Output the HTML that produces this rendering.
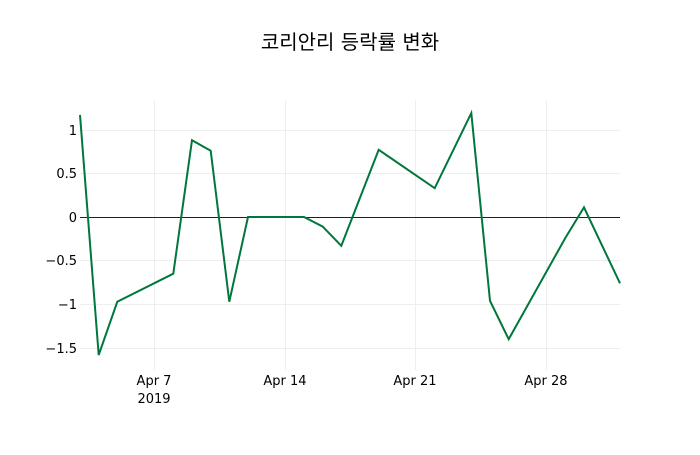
<!DOCTYPE html>
<html><head><meta charset="utf-8"><style>
body{margin:0;background:#fff}
svg text{font-family:"DejaVu Sans","Noto Sans CJK KR",sans-serif;fill:#000}
</style></head><body>
<svg width="700" height="450" xmlns="http://www.w3.org/2000/svg">
<rect width="700" height="450" fill="#fff"/>
<g stroke="#eee" stroke-width="1">
<line x1="154.5" y1="100" x2="154.5" y2="370"/>
<line x1="285.5" y1="100" x2="285.5" y2="370"/>
<line x1="415.5" y1="100" x2="415.5" y2="370"/>
<line x1="546.5" y1="100" x2="546.5" y2="370"/>
<line x1="80" y1="130.5" x2="620" y2="130.5"/>
<line x1="80" y1="173.5" x2="620" y2="173.5"/>
<line x1="80" y1="260.5" x2="620" y2="260.5"/>
<line x1="80" y1="304.5" x2="620" y2="304.5"/>
<line x1="80" y1="348.5" x2="620" y2="348.5"/>
</g>
<line x1="80" y1="217.5" x2="620" y2="217.5" stroke="#222" stroke-width="1"/>
<polyline fill="none" stroke="#00773c" stroke-width="2" points="80,115 98.7,355 117.3,301.7 173.3,273.7 192,140.2 210.7,150.7 229.3,301.7 248,217 304,217 322.7,226.6 341.3,245.8 378.7,149.8 434.7,188.2 471.3,113.1 490,300.8 508.7,339.2 565.3,238 584,207.4 620,283.3"/>
<g font-size="13" text-anchor="end">
<text x="77" y="135">1</text>
<text x="77" y="178">0.5</text>
<text x="77" y="222">0</text>
<text x="77" y="265">−0.5</text>
<text x="77" y="309">−1</text>
<text x="77" y="353">−1.5</text>
</g>
<g font-size="13" text-anchor="middle">
<text x="154" y="385">Apr 7</text>
<text x="154" y="403">2019</text>
<text x="285" y="385">Apr 14</text>
<text x="415" y="385">Apr 21</text>
<text x="546" y="385">Apr 28</text>
</g>
<text x="350" y="49" font-size="20" text-anchor="middle">코리안리 등락률 변화</text>
</svg>
</body></html>
